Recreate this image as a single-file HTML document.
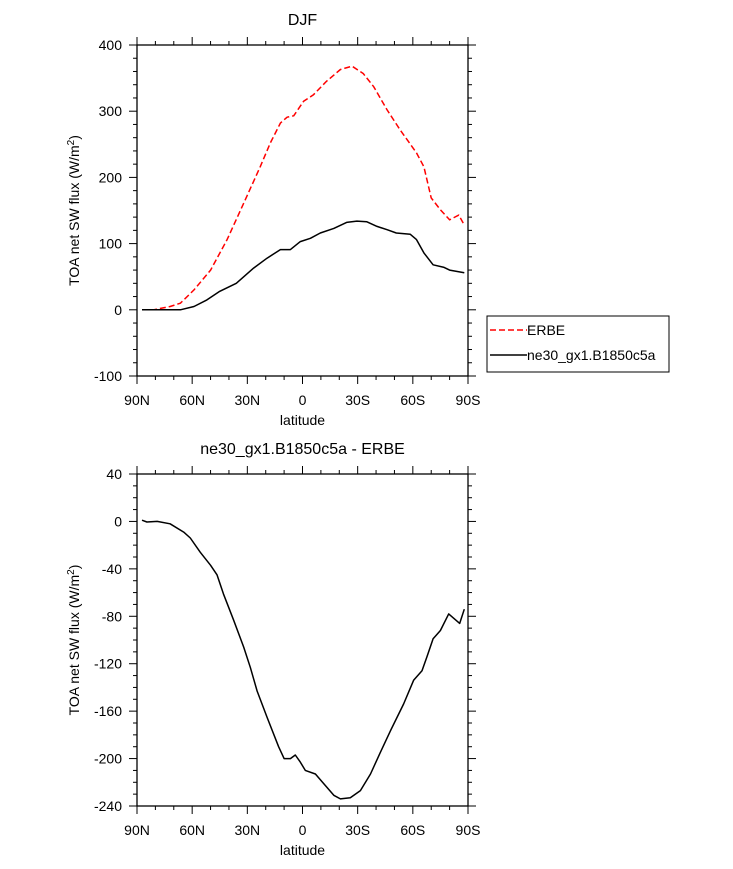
<!DOCTYPE html>
<html><head><meta charset="utf-8"><style>
html,body{margin:0;padding:0;background:#fff;}
svg{display:block;font-family:"Liberation Sans",sans-serif;}
</style></head><body>
<svg id="c" width="733" height="869"></svg>
<script>
const lat1 = [87.3,81,72,66.4,59,50,41,32,23,17.5,12,8.4,4.8,-0.6,-6,-13,-20.6,-27,-33,-38.7,-46,-53,-62,-66,-70,-75,-80,-85,-88];
const erbe = [0,0,5,10,30,60,106,161,216,252,282,291,293,315,325,345,363,368,357,337,302,272,237,216,169,151,136,143,128];
const lat2 = [87.3,66.4,59,52,45,36,26.6,19.3,12,6.6,1.2,-4.3,-9.7,-17,-24,-29.6,-35,-40.5,-46,-51,-58.6,-62,-66,-71,-77,-80,-88];
const model = [0,0,5,15,28,40,63,78,91,91,103,108,116,123,132,134,133,126,121,116,114,106,86,68,64,60,56];
const lat3 = [87.3,84.6,79,72,64.6,61,55.6,50,46.5,43,37.5,32,28.4,24.7,19.3,13,10,6.6,3.9,1.2,-1.5,-7,-11.5,-17,-20.6,-26,-31.5,-37,-42,-48,-55,-60.4,-65,-67.7,-71,-75,-79.5,-85.5,-88];
const diff = [1,-0.5,0,-2,-9,-14,-26,-37,-45,-61,-83,-106,-123,-143,-165,-190,-200,-200,-197,-203,-210,-213,-221,-231,-234,-233,-227,-213,-196,-176,-154,-134,-126,-114,-99,-92,-78,-86,-74];
const xTickLabels = ["90N","60N","30N","0","30S","60S","90S"];
const yTicksTop = [400,300,200,100,0,-100];
const yTicksBot = [40,0,-40,-80,-120,-160,-200,-240];

const svg = document.getElementById('c');
const NS = 'http://www.w3.org/2000/svg';
function mk(tag, attrs, parent){const e=document.createElementNS(NS,tag);for(const k in attrs)e.setAttribute(k,attrs[k]);(parent||svg).appendChild(e);return e;}
function txt(s,attrs,name){const e=mk('text',attrs);e.textContent=s;return e;}

function panel(o){
  const L=137,R=468,T=o.T,B=o.B;
  const sx=v=>L+(90-v)/180*(R-L);
  const sy=v=>T+(o.ymax-v)/(o.ymax-o.ymin)*(B-T);
  const g=mk('g',{});
  
  
  mk('rect',{x:L,y:T,width:R-L,height:B-T,fill:'none',stroke:'#000','stroke-width':1.3},g);
  for(let v=90;v>=-90;v-=10){
    const x=sx(v),maj=(v%30===0),len=maj?8:4;
    mk('line',{x1:x,y1:B,x2:x,y2:B+len,stroke:'#000','stroke-width':1},g);
    mk('line',{x1:x,y1:T,x2:x,y2:T-len,stroke:'#000','stroke-width':1},g);
  }
  for(let v=o.ymin;v<=o.ymax+1e-6;v+=o.minor){
    const y=sy(v),maj=(Math.abs(v%o.major)<1e-6),len=maj?8:4;
    mk('line',{x1:L,y1:y,x2:L-len,y2:y,stroke:'#000','stroke-width':1},g);
    mk('line',{x1:R,y1:y,x2:R+len,y2:y,stroke:'#000','stroke-width':1},g);
  }
  xTickLabels.forEach((s,i)=>txt(s,{x:sx(90-30*i),y:B+29,'text-anchor':'middle','font-size':14},'x-tick-label'));
  o.yticks.forEach(v=>txt(String(v),{x:L-15,y:sy(v)+5,'text-anchor':'end','font-size':14},'y-tick-label'));
  txt('latitude',{x:(L+R)/2,y:B+49,'text-anchor':'middle','font-size':14},'x-axis-title');
  const cy=(T+B)/2;
  const t=txt('',{x:0,y:0,'text-anchor':'middle','font-size':14,transform:`translate(79 ${cy}) rotate(-90)`},'y-axis-title');
  t.innerHTML='TOA net SW flux (W/m<tspan dy="-5" font-size="10">2</tspan><tspan dy="5">)</tspan>';
  txt(o.title,{x:(L+R)/2,y:T-20,'text-anchor':'middle','font-size':16},'plot-title');
  return {sx,sy};
}
function line(lats,vals,ax,attrs,name){
  const d=lats.map((v,i)=>(i?'L':'M')+ax.sx(v).toFixed(1)+' '+ax.sy(vals[i]).toFixed(1)).join(' ');
  const p=mk('path',Object.assign({d,fill:'none','stroke-width':1.5,'stroke-linejoin':'round'},attrs));
  
  
}
const a1=panel({T:45,B:376,ymin:-100,ymax:400,major:100,minor:20,yticks:yTicksTop,title:'DJF',name:'top'});
line(lat1,erbe,a1,{stroke:'#f00','stroke-dasharray':'6 3'},'erbe-line');
line(lat2,model,a1,{stroke:'#000'},'model-line');
const a2=panel({T:474,B:806,ymin:-240,ymax:40,major:40,minor:10,yticks:yTicksBot,title:'ne30_gx1.B1850c5a - ERBE',name:'bottom'});
line(lat3,diff,a2,{stroke:'#000'},'difference-line');

const lg=mk('g',{});


mk('rect',{x:487,y:316,width:182,height:56,fill:'#fff',stroke:'#000','stroke-width':1},lg);
mk('line',{x1:490,y1:330,x2:527,y2:330,stroke:'#f00','stroke-width':1.5,'stroke-dasharray':'6 3'},lg);
mk('line',{x1:490,y1:355,x2:527,y2:355,stroke:'#000','stroke-width':1.5},lg);
txt('ERBE',{x:527,y:335,'font-size':14},'legend-entry-erbe');
txt('ne30_gx1.B1850c5a',{x:527,y:360,'font-size':14},'legend-entry-model');
</script>
</body></html>
